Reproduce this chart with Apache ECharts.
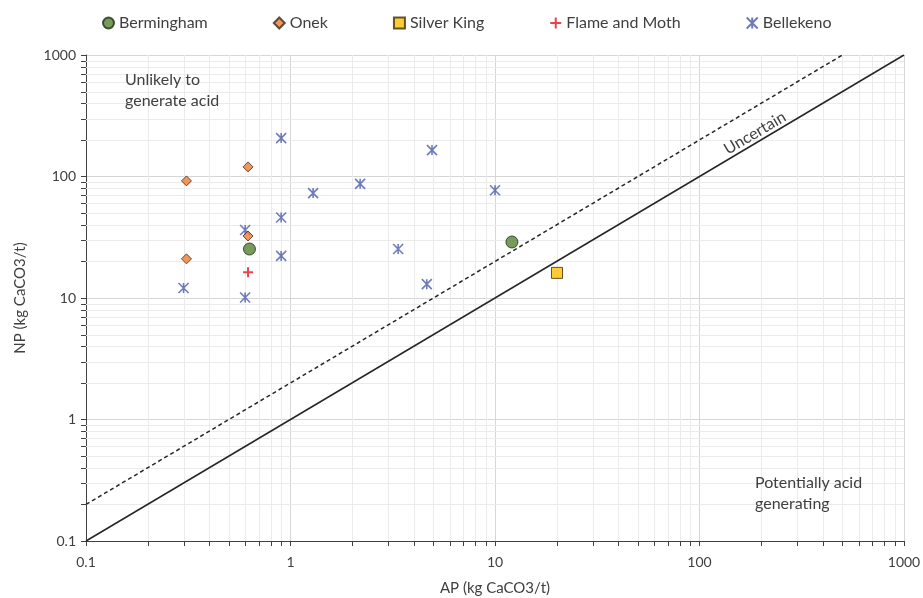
<!DOCTYPE html>
<html>
<head>
<meta charset="utf-8">
<script src="https://cdn.jsdelivr.net/npm/echarts@6/dist/echarts.min.js"></script>
<style>
html,body{margin:0;padding:0;background:#fff;}
#chart{width:923px;height:598px;}
</style>
</head>
<body>
<div id="chart"></div>
<script>
// ---- Data (AP = x, NP = y; kg CaCO3/t) ----
const berminghamAP = [0.63, 12.1];
const berminghamNP = [25.3, 28.9];
const onekAP = [0.31, 0.62, 0.31, 0.62];
const onekNP = [92, 120, 21, 32.4];
const silverKingAP = [20.1];
const silverKingNP = [16.1];
const flameMothAP = [0.62];
const flameMothNP = [16.3];
const bellekenoAP = [0.90, 1.29, 2.19, 4.92, 10.0, 0.90, 0.90, 0.60, 0.30, 0.60, 3.36, 4.64];
const bellekenoNP = [207, 73, 87, 165, 77, 46, 22.2, 36.3, 12.1, 10.1, 25.3, 13.0];

// reference lines: NP/AP = 1 (solid) and NP/AP = 2 (dashed)
const solidLineAP = [0.1, 1000];
const solidLineNP = [0.1, 1000];
const dashedLineAP = [0.1, 500];
const dashedLineNP = [0.2, 1000];

const tickLabels = ['0.1', '1', '10', '100', '1000'];
const decadeStarts = [0.1, 1, 10, 100];
const minorMultipliers = [2, 3, 4, 5, 6, 7, 8, 9];

const zip = (a, b) => a.map((v, i) => [v, b[i]]);
const minorValues = [];
decadeStarts.forEach(d => minorMultipliers.forEach(m => minorValues.push(+(d * m).toPrecision(3))));

const FONT = 'Lato';
const TXT = '#404040';
const AXIS = '#404040';

const chart = echarts.init(document.getElementById('chart'), null, {renderer: 'canvas'});

const fmt = v => {
  const s = String(+(+v).toPrecision(3));
  return tickLabels.indexOf(s) >= 0 ? s : '';
};

const axisCommon = {
  type: 'log',
  logBase: 10,
  min: 0.1,
  max: 1000,
  axisLine: {show: true, lineStyle: {color: AXIS, width: 1}},
  axisTick: {show: true, inside: false, length: 5, lineStyle: {color: AXIS}},
  splitLine: {show: true, lineStyle: {color: '#d6d6d6', width: 1}},
  axisLabel: {color: TXT, fontFamily: FONT, fontSize: 14, formatter: fmt},
  nameTextStyle: {color: TXT, fontFamily: FONT, fontSize: 15}
};

const starPath = 'path://M0,0L10,10M10,0L0,10M5,0L5,10';
const plusPath = 'path://M5,0L5,10M0,5L10,5';

const option = {
  backgroundColor: '#ffffff',
  animation: false,
  grid: {left: 86, right: 19, top: 55, bottom: 57, containLabel: false, outerBoundsMode: 'none'},
  legend: {
    data: ['Bermingham', 'Onek', 'Silver King', 'Flame and Moth', 'Bellekeno'],
    left: 97, top: 10,
    itemWidth: 11, itemHeight: 11, itemGap: 65,
    textStyle: {color: TXT, fontFamily: FONT, fontSize: 16}
  },
  xAxis: Object.assign({}, axisCommon, {
    name: 'AP (kg CaCO3/t)', nameLocation: 'middle', nameGap: 40,
    axisLabel: Object.assign({}, axisCommon.axisLabel, {margin: 14})
  }),
  yAxis: Object.assign({}, axisCommon, {
    name: 'NP (kg CaCO3/t)', nameLocation: 'middle', nameGap: 58,
    axisLabel: Object.assign({}, axisCommon.axisLabel, {margin: 10})
  }),
  graphic: [
    {type: 'text', left: 125, top: 69, z: 100, silent: true,
      style: {text: 'Unlikely to\ngenerate acid', fill: TXT, font: '16px ' + FONT, lineHeight: 21}},
    {type: 'text', left: 755, top: 472, z: 100, silent: true,
      style: {text: 'Potentially acid\ngenerating', fill: TXT, font: '16px ' + FONT, lineHeight: 21}},
    {type: 'text', x: 755, y: 133, z: 100, rotation: Math.atan(121.5 / 204.5), silent: true,
      style: {text: 'Uncertain', fill: TXT, font: '16px ' + FONT, align: 'center', verticalAlign: 'middle'}}
  ],
  series: [
    {
      type: 'custom', silent: true, clip: false, z: 1,
      data: minorValues.map(v => [v, v]),
      encode: {x: 0, y: 1},
      renderItem: (params, api) => {
        const v = api.value(0);
        const p = api.coord([v, v]);
        const cs = params.coordSys;
        const x = Math.round(p[0]) + 0.5, y = Math.round(p[1]) + 0.5;
        const gs = {stroke: '#ebebeb', lineWidth: 1};
        const ts = {stroke: AXIS, lineWidth: 1};
        const bottom = cs.y + cs.height;
        return {type: 'group', children: [
          {type: 'line', shape: {x1: x, y1: cs.y, x2: x, y2: bottom}, style: gs},
          {type: 'line', shape: {x1: cs.x, y1: y, x2: cs.x + cs.width, y2: y}, style: gs},
          {type: 'line', shape: {x1: x, y1: bottom, x2: x, y2: bottom + 5}, style: ts},
          {type: 'line', shape: {x1: cs.x - 5, y1: y, x2: cs.x, y2: y}, style: ts}
        ]};
      }
    },
    {
      type: 'line', name: 'ratio1', data: zip(solidLineAP, solidLineNP), symbol: 'none', z: 3,
      lineStyle: {color: '#262626', width: 1.5}, silent: true
    },
    {
      type: 'line', name: 'ratio2', data: zip(dashedLineAP, dashedLineNP), symbol: 'none', z: 3,
      lineStyle: {color: '#262626', width: 1.5, type: [4, 3]}, silent: true
    },
    {
      type: 'scatter', name: 'Bellekeno', data: zip(bellekenoAP, bellekenoNP), z: 4,
      symbol: starPath, symbolSize: 10,
      itemStyle: {color: 'rgba(0,0,0,0)', borderColor: '#4a5bab', borderWidth: 1.6}
    },
    {
      type: 'scatter', name: 'Onek', data: zip(onekAP, onekNP), z: 5,
      symbol: 'diamond', symbolSize: 10,
      itemStyle: {color: '#ed7d31', borderColor: '#3a2a1a', borderWidth: 1}
    },
    {
      type: 'scatter', name: 'Bermingham', data: zip(berminghamAP, berminghamNP), z: 5,
      symbol: 'circle', symbolSize: 12,
      itemStyle: {color: '#548235', borderColor: '#1e2e14', borderWidth: 1}
    },
    {
      type: 'scatter', name: 'Silver King', data: zip(silverKingAP, silverKingNP), z: 5,
      symbol: 'rect', symbolSize: 11,
      itemStyle: {color: '#ffc000', borderColor: '#3a2e0a', borderWidth: 1}
    },
    {
      type: 'scatter', name: 'Flame and Moth', data: zip(flameMothAP, flameMothNP), z: 5,
      symbol: plusPath, symbolSize: 10,
      itemStyle: {color: 'rgba(0,0,0,0)', borderColor: '#e3141f', borderWidth: 2}
    }
  ]
};
chart.setOption(option);
</script>
</body>
</html>
